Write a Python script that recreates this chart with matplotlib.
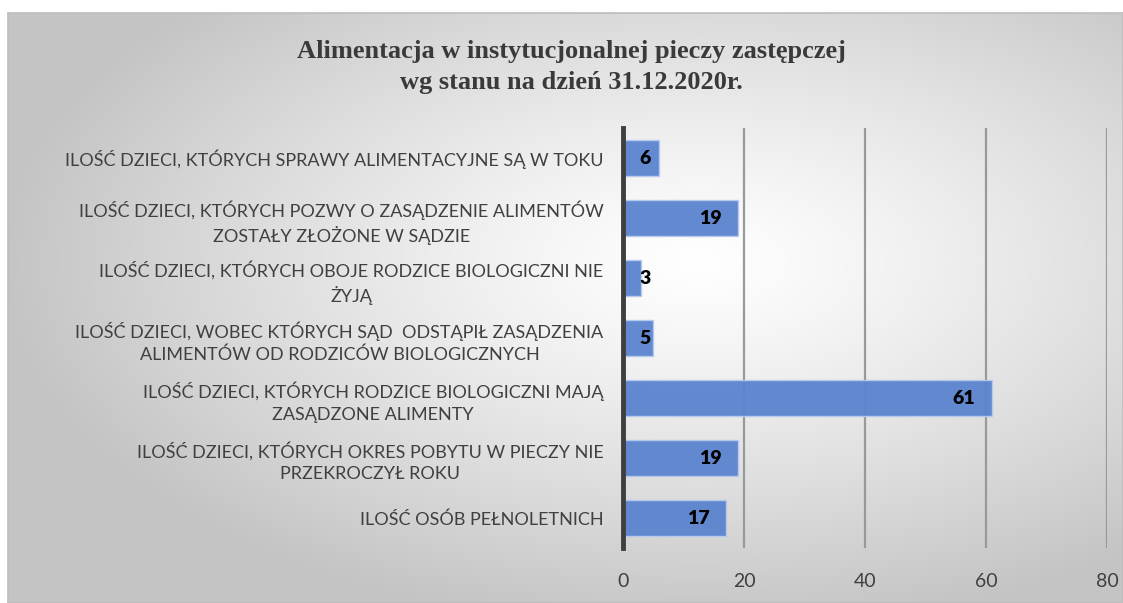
import numpy as np
import matplotlib
matplotlib.use("Agg")
import matplotlib.pyplot as plt

title = "Alimentacja w instytucjonalnej pieczy zastępczej\nwg stanu na dzień 31.12.2020r."
categories = [
    "ILOŚĆ DZIECI, KTÓRYCH SPRAWY ALIMENTACYJNE SĄ W TOKU",
    "ILOŚĆ DZIECI, KTÓRYCH POZWY O ZASĄDZENIE ALIMENTÓW\nZOSTAŁY ZŁOŻONE W SĄDZIE",
    "ILOŚĆ DZIECI, KTÓRYCH OBOJE RODZICE BIOLOGICZNI NIE\nŻYJĄ",
    "ILOŚĆ DZIECI, WOBEC KTÓRYCH SĄD  ODSTĄPIŁ ZASĄDZENIA\nALIMENTÓW OD RODZICÓW BIOLOGICZNYCH",
    "ILOŚĆ DZIECI, KTÓRYCH RODZICE BIOLOGICZNI MAJĄ\nZASĄDZONE ALIMENTY",
    "ILOŚĆ DZIECI, KTÓRYCH OKRES POBYTU W PIECZY NIE\nPRZEKROCZYŁ ROKU",
    "ILOŚĆ OSÓB PEŁNOLETNICH",
]
values = [6, 19, 3, 5, 61, 19, 17]
x_ticks = [0, 20, 40, 60, 80]

W, H = 1123, 603
fig = plt.figure(figsize=(W / 100, H / 100), dpi=100)
fig.patch.set_facecolor("white")

# chart area background with radial gradient
x0, y0 = 8, 13
bg = fig.add_axes([x0 / W, 0, 1 - x0 / W, 1 - y0 / H], zorder=0)
gw, gh = 400, 220
xx, yy = np.meshgrid(np.linspace(0, 1, gw), np.linspace(0, 1, gh))
cx, cy = 0.62, 0.42
d = np.sqrt(((xx - cx) / 0.5) ** 2 + ((yy - cy) / 0.5) ** 2)
g = 1 - 0.23 * np.clip(d / 1.25, 0, 1) ** 1.2
img = np.dstack([g, g, g])
bg.imshow(img, extent=[0, 1, 1, 0], aspect="auto", interpolation="bilinear")
bg.set_xlim(0, 1)
bg.set_ylim(1, 0)
bg.set_xticks([])
bg.set_yticks([])
for s in bg.spines.values():
    s.set_color("#bdbdbd")
    s.set_linewidth(1.2)

ax_left, ax_right, ax_top, ax_bot = 623, 1107, 128, 548
ax = fig.add_axes([ax_left / W, 1 - ax_bot / H, (ax_right - ax_left) / W,
                   (ax_bot - ax_top) / H], zorder=2)
ax.set_facecolor("none")
ypos = np.arange(len(categories))
ax.barh(ypos, values, height=0.6, color="#5b84cf", edgecolor="#b8cbee",
        linewidth=1, alpha=0.95, zorder=3)
ax.set_ylim(len(categories) - 0.5, -0.5)
ax.set_xlim(0, 80)
ax.set_xticks(x_ticks)
ax.set_xticklabels([str(t) for t in x_ticks], fontsize=14, color="#404040", family="Lato")
ax.set_yticks(ypos)
ax.set_yticklabels(categories, fontsize=13, color="#404040", family="Lato",
                   multialignment="center", linespacing=1.42)
ax.tick_params(axis="y", length=0, pad=14)
ax.tick_params(axis="x", length=0, pad=18)
ax.grid(axis="x", color="#999999", linewidth=1.6, zorder=1)
for s in ["top", "right", "bottom"]:
    ax.spines[s].set_visible(False)
ax.spines["left"].set_color("#3f3f3f")
ax.spines["left"].set_linewidth(3.5)
ax.spines["left"].set_zorder(4)

px_per_unit = (ax_right - ax_left) / 80
for yi, v in zip(ypos, values):
    tw = 10 * len(str(v))
    if v * px_per_unit - 16 - tw < 16:
        ax.annotate(str(v), (0, yi), xytext=(12, 0), textcoords="offset points",
                    ha="left", va="center", fontsize=14, fontweight="heavy",
                    color="black", family="Lato", zorder=5)
    else:
        ax.annotate(str(v), (v, yi), xytext=(-12, 0), textcoords="offset points",
                    ha="right", va="center", fontsize=14, fontweight="heavy",
                    color="black", family="Lato", zorder=5)

fig.text(571 / W, 1 - 67 / H, title, ha="center", va="center", fontsize=19,
         fontweight="bold", family="Liberation Serif", color="#3a3a3a",
         linespacing=1.4, zorder=5)

fig.savefig("out.png", dpi=100, facecolor="white")
